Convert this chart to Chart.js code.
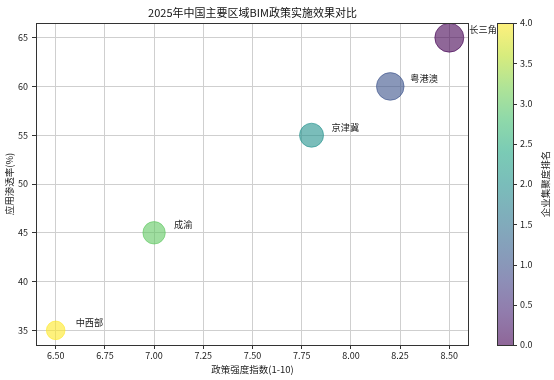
<!DOCTYPE html>
<html><head><meta charset="utf-8">
<script src="https://cdn.jsdelivr.net/npm/chart.js@4"></script>
<style>html,body{margin:0;padding:0;background:#fff}#wrap{width:554px;height:380px;position:relative}</style>
</head><body><div id="wrap"><canvas id="c" width="554" height="380"></canvas></div>
<script>
const regions = ['长三角', '粤港澳', '京津冀', '成渝', '中西部'];
const policyIndex = [8.5, 8.2, 7.8, 7.0, 6.5];
const adoptionRate = [65, 60, 55, 45, 35];
const clusterRank = [0, 1, 2, 3, 4];
const bubbleRadius = [14.5, 13.8, 12, 11.2, 9.3];
const xTicks = [6.5, 6.75, 7.0, 7.25, 7.5, 7.75, 8.0, 8.25, 8.5];
const yTicks = [35, 40, 45, 50, 55, 60, 65];
const cbTicks = [0, 0.5, 1, 1.5, 2, 2.5, 3, 3.5, 4];

const VIR = ['#440154','#482475','#414487','#355f8d','#2a788e','#21918c','#22a884','#44bf70','#7ad151','#bddf26','#fde725'];
function hex(h){return [parseInt(h.slice(1,3),16),parseInt(h.slice(3,5),16),parseInt(h.slice(5,7),16)];}
function viridis(t, a){
  t = Math.max(0, Math.min(1, t));
  const p = t * (VIR.length - 1), i = Math.min(Math.floor(p), VIR.length - 2), f = p - i;
  const c0 = hex(VIR[i]), c1 = hex(VIR[i+1]);
  const c = c0.map((v, k) => Math.round(v + (c1[k] - v) * f));
  return `rgba(${c[0]},${c[1]},${c[2]},${a})`;
}
const cbMin = 0, cbMax = 4;
const colors = clusterRank.map(r => viridis((r - cbMin) / (cbMax - cbMin), 0.6));

Chart.defaults.font.family = '"Noto Sans CJK SC", "DejaVu Sans", sans-serif';
Chart.defaults.color = '#222';

function noPad(s) { s.paddingTop = 0; s.paddingBottom = 0; s.paddingLeft = 0; s.paddingRight = 0; }

const overlay = {
  id: 'overlay',
  afterDraw(chart) {
    const ctx = chart.ctx, a = chart.chartArea;
    const xs = chart.scales.x, ys = chart.scales.y, cs = chart.scales.y2;
    ctx.save();
    // spines
    ctx.strokeStyle = '#333'; ctx.lineWidth = 1;
    ctx.strokeRect(Math.round(a.left) + 0.5, Math.round(a.top) + 0.5, Math.round(a.right - a.left) - 1, Math.round(a.bottom - a.top));
    // point labels
    ctx.font = '9.2px "Noto Sans CJK SC"';
    ctx.fillStyle = '#222'; ctx.textAlign = 'left'; ctx.textBaseline = 'middle';
    regions.forEach((r, i) => {
      ctx.fillText(r, xs.getPixelForValue(policyIndex[i]) + 20, ys.getPixelForValue(adoptionRate[i]) - 8);
    });
    // colorbar
    const x0 = cs.left + 28, w = 16;
    const yTop = cs.getPixelForValue(cbMax), yBot = cs.getPixelForValue(cbMin);
    const g = ctx.createLinearGradient(0, yBot, 0, yTop);
    for (let k = 0; k <= 20; k++) g.addColorStop(k / 20, viridis(k / 20, 0.6));
    ctx.fillStyle = '#fff'; ctx.fillRect(x0, yTop, w, yBot - yTop);
    ctx.fillStyle = g; ctx.fillRect(x0, yTop, w, yBot - yTop);
    ctx.strokeStyle = '#333'; ctx.lineWidth = 1;
    ctx.strokeRect(x0 + 0.5, Math.round(yTop) + 0.5, w, Math.round(yBot - yTop));
    cbTicks.forEach(v => {
      const py = Math.round(cs.getPixelForValue(v)) + 0.5;
      ctx.beginPath(); ctx.moveTo(x0 + w + 0.5, py); ctx.lineTo(x0 + w + 4, py); ctx.stroke();
    });
    // colorbar title
    ctx.fillStyle = '#222';
    ctx.font = '9.5px "Noto Sans CJK SC"';
    ctx.translate(cs.right - 9, (yTop + yBot) / 2);
    ctx.rotate(-Math.PI / 2);
    ctx.textAlign = 'center'; ctx.textBaseline = 'middle';
    ctx.fillText('企业集聚度排名', 0, 0);
    ctx.restore();
  }
};

new Chart(document.getElementById('c'), {
  type: 'bubble',
  data: {
    datasets: [{
      data: policyIndex.map((x, i) => ({x, y: adoptionRate[i], r: bubbleRadius[i]})),
      backgroundColor: colors,
      borderColor: colors,
      borderWidth: 1,
      hoverRadius: 0
    }]
  },
  options: {
    responsive: false,
    animation: false,
    events: [],
    layout: {padding: 0},
    plugins: {
      legend: {display: false},
      tooltip: {enabled: false},
      title: {
        display: true, fullSize: false,
        text: '2025年中国主要区域BIM政策实施效果对比',
        font: {size: 11, weight: 'normal'}, color: '#111',
        padding: {top: 6.5, bottom: 3.3}
      }
    },
    scales: {
      x: {
        type: 'linear', position: 'bottom', min: 6.4, max: 8.6,
        afterBuildTicks: s => { s.ticks = xTicks.map(v => ({value: v})); },
        afterFit: s => { s.height = 35; noPad(s); },
        ticks: {callback: v => v.toFixed(2), font: {size: 9}, padding: 1, maxRotation: 0, autoSkip: false},
        grid: {color: '#cfcfcf', lineWidth: 1, tickColor: '#333', tickLength: 4},
        border: {display: false},
        title: {display: true, text: '政策强度指数(1-10)', font: {size: 9.5}, padding: {top: 2, bottom: 5}}
      },
      y: {
        type: 'linear', position: 'left', min: 33.5, max: 66.5,
        afterBuildTicks: s => { s.ticks = yTicks.map(v => ({value: v})); },
        afterFit: s => { s.width = 36; noPad(s); },
        ticks: {callback: v => String(v), font: {size: 9}, padding: 4, autoSkip: false},
        grid: {color: '#cfcfcf', lineWidth: 1, tickColor: '#333', tickLength: 4},
        border: {display: false},
        title: {display: true, text: '应用渗透率(%)', font: {size: 9.5}, padding: {top: 4, bottom: 4}}
      },
      y2: {
        type: 'linear', position: 'right', min: cbMin, max: cbMax,
        afterBuildTicks: s => { s.ticks = cbTicks.map(v => ({value: v})); },
        afterFit: s => { s.width = 85; noPad(s); },
        ticks: {callback: v => v.toFixed(1), font: {size: 9}, padding: 51, autoSkip: false},
        grid: {display: false, drawTicks: false, tickLength: 0},
        border: {display: false}
      }
    }
  },
  plugins: [overlay]
});
</script></body></html>
